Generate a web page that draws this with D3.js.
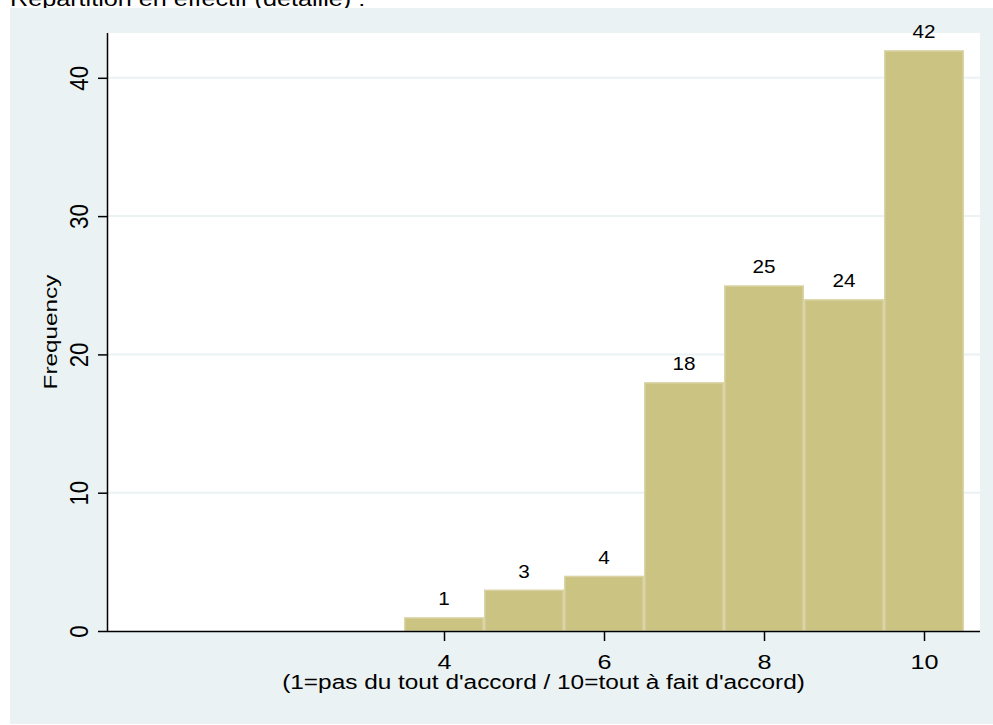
<!DOCTYPE html>
<html><head><meta charset="utf-8">
<script src="https://cdn.jsdelivr.net/npm/d3@7"></script>
<style>body{margin:0;background:#fff;} text{font-family:"Liberation Sans",Arial,sans-serif;fill:#000;}</style>
</head><body>
<svg id="c" width="993" height="725"></svg>
<script>
const titleText = "Répartition en effectif (détaillé) :";
const categories = [4, 5, 6, 7, 8, 9, 10];
const frequencies = [1, 3, 4, 18, 25, 24, 42];
const xTicks = [4, 6, 8, 10];
const yTicks = [0, 10, 20, 30, 40];
const xTitle = "(1=pas du tout d'accord / 10=tout à fait d'accord)";
const yTitle = "Frequency";

const svg = d3.select("#c");
const L = 108, R = 980, T = 33, B = 631;
const x = d3.scaleLinear().domain([-0.2, 10.7]).range([L, R]);
const y = d3.scaleLinear().domain([0, 43.24]).range([B, T]);

svg.append("text").attr("transform","translate(10,5.5) scale(1.2,1)").attr("font-size",21).text(titleText);
svg.append("rect").attr("x",10).attr("y",8).attr("width",990).attr("height",716).attr("fill","#eaf2f3");
svg.append("rect").attr("x",L).attr("y",T).attr("width",R-L).attr("height",B-T).attr("fill","#fff");

// grid
svg.append("g").selectAll("line").data(yTicks.filter(d=>d>0)).join("line")
  .attr("x1",L).attr("x2",R).attr("y1",d=>y(d)).attr("y2",d=>y(d))
  .attr("stroke","#eaf2f3").attr("stroke-width",2);

// bars
svg.append("g").selectAll("rect").data(categories).join("rect")
  .attr("x",(d)=>x(d-0.5)+0.75).attr("width",(d)=>x(d+0.5)-x(d-0.5)-1.5)
  .attr("y",(d,i)=>y(frequencies[i])+0.75).attr("height",(d,i)=>y(0)-y(frequencies[i])-0.75)
  .attr("fill","#cbc382").attr("stroke","#dad4a6").attr("stroke-width",1.5);

// bar labels
svg.append("g").selectAll("text").data(categories).join("text")
  .attr("transform",(d,i)=>`translate(${x(d)},${y(frequencies[i])-12}) scale(1.15,1)`)
  .attr("text-anchor","middle").attr("font-size",18).text((d,i)=>frequencies[i]);

// x axis
const xa = svg.append("g").attr("transform",`translate(0,${B})`)
  .call(d3.axisBottom(x).tickValues(xTicks).tickSize(10).tickFormat(d3.format("d")));
xa.attr("font-family",null).attr("font-size",null);
xa.select(".domain").attr("d",`M${L},0.5H${R}`).attr("stroke","#000").attr("stroke-width",1.5);
xa.selectAll(".tick line").attr("stroke","#000").attr("stroke-width",1.5);
xa.selectAll(".tick text").attr("font-size",21).attr("dy",null).attr("y",null)
  .attr("transform","translate(0,38) scale(1.2,1)");

// y axis
const ya = svg.append("g").attr("transform",`translate(${L},0)`)
  .call(d3.axisLeft(y).tickValues(yTicks).tickSize(10).tickFormat(d3.format("d")));
ya.attr("font-family",null).attr("font-size",null);
ya.select(".domain").attr("d",`M-0.5,${T}V${B}`).attr("stroke","#000").attr("stroke-width",1.5);
ya.selectAll(".tick line").attr("stroke","#000").attr("stroke-width",1.5);
ya.selectAll(".tick text").attr("font-size",23.5).attr("x",null).attr("dy",null)
  .attr("text-anchor","middle").attr("transform","translate(-20,0) rotate(-90) scale(0.95,1.08)");

svg.append("text").attr("transform",`translate(543.5,689) scale(1.25,1)`)
  .attr("text-anchor","middle").attr("font-size",19.5).text(xTitle);
svg.append("text").attr("transform",`translate(57,${(T+B)/2}) rotate(-90) scale(1.28,1)`)
  .attr("text-anchor","middle").attr("font-size",19).text(yTitle);
</script>
</body></html>
